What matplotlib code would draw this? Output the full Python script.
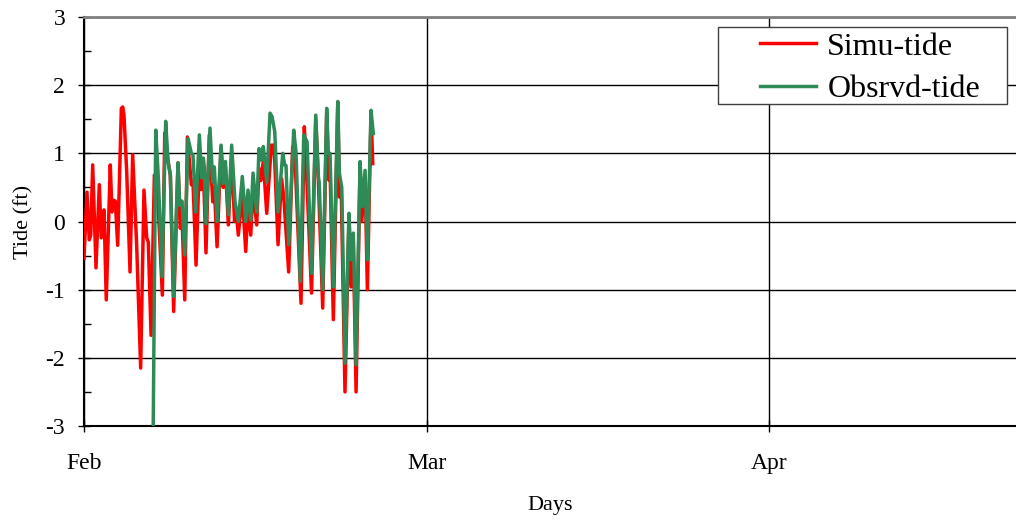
import numpy as np
from matplotlib import pyplot as plt
from matplotlib.ticker import MultipleLocator, FixedLocator
from matplotlib.patches import Rectangle

plt.rcParams['font.family'] = ['Liberation Serif', 'DejaVu Serif']
plt.rcParams['axes.unicode_minus'] = False

# Days after Feb 1 (axis ticks every 30 days, labelled by month)
simu_day = [0.0, 0.26, 0.46, 0.59, 0.76, 1.05, 1.34, 1.51, 1.75, 1.95, 2.30, 2.45, 2.60, 2.74,
            2.95, 3.27, 3.39, 3.50, 3.74, 4.03, 4.26, 4.61, 4.96, 5.25, 5.49, 5.63, 5.87, 6.16,
            6.45, 6.86, 7.07, 7.36, 7.56, 7.85, 8.23, 8.43, 8.58, 8.82, 9.05, 9.40, 9.54, 9.81,
            10.10, 10.25, 10.45, 10.68, 10.97, 11.27, 11.41, 11.65, 12.00, 12.20, 12.38, 12.64,
            12.93, 13.18, 13.31, 13.51, 13.86, 14.16, 14.36, 14.60, 14.80, 15.12, 15.32, 15.47,
            15.70, 16.00, 16.40, 16.61, 16.70, 16.99, 17.29, 17.49, 17.92, 18.27, 18.48, 19.00,
            19.29, 19.44, 19.92, 20.29, 20.52, 20.90, 21.25, 21.43, 21.54, 21.83, 22.22, 22.36,
            22.53, 22.85, 23.20, 23.38, 23.58, 23.82, 24.17, 24.32, 24.61, 24.81, 25.13, 25.28]
simu_tide = [-0.54, 0.43, -0.27, -0.2, 0.83, -0.68, 0.54, -0.24, 0.17, -1.15, 0.83, 0.14, 0.31, 0.3,
             -0.35, 1.66, 1.68, 1.56, 0.73, -0.74, 0.98, -0.34, -2.15, 0.46, -0.24, -0.3, -1.67, 0.68,
             0.39, -1.08, 1.3, 0.88, 0.68, -1.32, 0.86, -0.1, 0.1, -1.15, 1.24, 0.54, 0.6, -0.64,
             0.88, 0.47, 0.8, -0.46, 1.27, 0.29, 0.5, -0.37, 1.1, 0.5, 0.8, -0.05,
             1.0, 0.0, 0.2, -0.2, 0.39, -0.44, 0.24, -0.2, 0.48, -0.05, 0.78, 0.6,
             0.88, 0.12, 1.12, 1.12, 0.88, -0.34, 0.63, 0.36, -0.74, 1.1, 0.9, -1.2,
             1.39, 0.9, -1.05, 1.5, 0.6, -1.27, 1.6, 0.61, 0.8, -1.44, 1.75, 0.36,
             0.4, -2.5, 0.07, -0.96, -0.3, -2.5, 0.8, 0.0, 0.66, -1.0, 1.6, 0.85]

obs_day = [6.06, 6.28, 6.51, 6.83, 7.15, 7.36, 7.56, 7.85, 8.23, 8.38, 8.58, 8.82, 9.11, 9.40,
           9.54, 9.78, 10.10, 10.31, 10.45, 10.53, 10.68, 11.03, 11.27, 11.41, 11.65, 12.00, 12.20,
           12.38, 12.64, 12.93, 13.22, 13.51, 13.86, 14.16, 14.36, 14.60, 14.80, 15.12, 15.32,
           15.53, 15.70, 16.00, 16.29, 16.46, 16.70, 16.99, 17.40, 17.57, 17.69, 17.92, 18.36,
           18.56, 18.94, 19.24, 19.53, 19.92, 20.29, 20.52, 20.60, 20.90, 21.25, 21.39, 21.54,
           21.83, 22.22, 22.36, 22.57, 22.85, 23.20, 23.35, 23.58, 23.82, 24.17, 24.37, 24.61,
           24.81, 25.13, 25.33]
obs_tide = [-3.0, 1.34, 0.64, -0.81, 1.47, 0.88, 0.68, -1.1, 0.86, 0.24, 0.3, -0.49, 1.22, 1.0,
            0.98, 0.14, 1.27, 0.64, 0.93, 0.8, -0.03, 1.37, 0.58, 0.8, 0.0, 1.12, 0.56,
            0.88, 0.1, 1.12, 0.29, 0.0, 0.66, 0.0, 0.46, 0.02, 0.71, 0.14, 1.07,
            0.9, 1.1, 0.58, 1.59, 1.54, 1.32, 0.14, 1.0, 0.83, 0.82, -0.34, 1.34,
            1.02, -0.88, 1.27, 1.17, -0.76, 1.56, 0.66, 0.56, -1.0, 1.66, 1.0, 1.0,
            -0.96, 1.76, 0.71, 0.5, -2.08, 0.12, -0.56, -0.17, -2.1, 0.88, 0.22, 0.75,
            -0.56, 1.63, 1.29]

month_ticks = [0, 30, 60]
month_labels = ["Feb", "Mar", "Apr"]

fig = plt.figure(figsize=(10.16, 5.2), dpi=100)
ax = fig.add_axes([84 / 1016, 1 - 426 / 520, 1 - 84 / 1016, (426 - 17) / 520])

ax.plot(simu_day, simu_tide, color="#ff0000", linewidth=2.5, label="Simu-tide", zorder=3)
ax.plot(obs_day, obs_tide, color="#2e8b57", linewidth=2.5, label="Obsrvd-tide", zorder=4)

ax.set_xlim(0, 81.6)
ax.set_ylim(-3, 3)
ax.xaxis.set_major_locator(FixedLocator(month_ticks))
ax.set_xticklabels(month_labels)
ax.yaxis.set_major_locator(MultipleLocator(1))
ax.yaxis.set_minor_locator(MultipleLocator(0.5))
ax.grid(True, which="major", color="black", linewidth=1)
ax.set_axisbelow(True)

ax.tick_params(axis="both", which="major", direction="inout", length=9, width=1, labelsize=17,
               color="black")
ax.tick_params(axis="x", pad=15)
ax.tick_params(axis="y", which="minor", direction="in", length=5, width=1)
ax.tick_params(axis="y", pad=9)

ax.spines["right"].set_visible(False)
ax.spines["top"].set_color("#808080")
ax.spines["top"].set_linewidth(2)
ax.spines["left"].set_linewidth(1.5)
ax.spines["bottom"].set_linewidth(1.5)

ax.set_xlabel("Days", fontsize=16, labelpad=16)
ax.set_ylabel("Tide (ft)", fontsize=16, labelpad=9)

# legend box drawn by hand so its size matches the original
ax.add_patch(Rectangle((718 / 1016, 1 - 104 / 520), 289 / 1016, 77 / 520,
                       transform=fig.transFigure, facecolor="white", clip_on=False,
                       edgecolor="#404040", linewidth=1, zorder=5))
leg = ax.legend(loc="upper left", bbox_to_anchor=(757 / 1016, 1 - 29 / 520),
                bbox_transform=fig.transFigure, fontsize=23, frameon=False,
                handlelength=1.75, handletextpad=0.35, borderpad=0.1, labelspacing=0.4,
                borderaxespad=0)
leg.set_zorder(6)

plt.savefig("out.png", dpi=100)
